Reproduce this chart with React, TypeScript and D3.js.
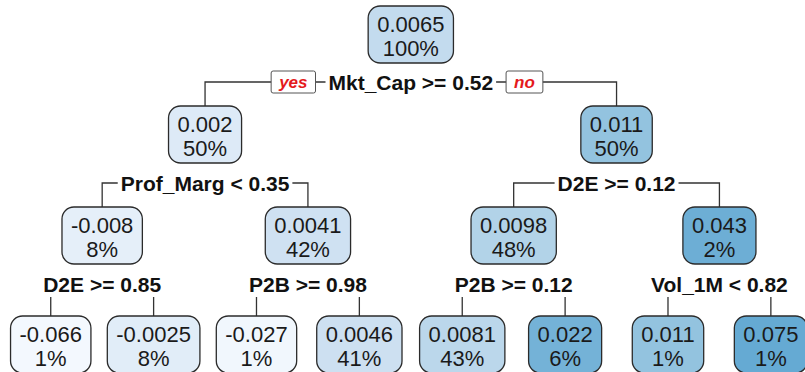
import { useEffect, useRef } from 'react'
import * as d3 from 'd3'

// rpart node numbers: children of n are 2n and 2n+1
const nodeIds = [1, 2, 3, 4, 5, 6, 7, 8, 9, 10, 11, 12, 13, 14, 15]
const nodeValues = [0.0065, 0.002, 0.011, -0.008, 0.0041, 0.0098, 0.043, -0.066, -0.0025, -0.027, 0.0046, 0.0081, 0.022, 0.011, 0.075]
const nodePercents = [100, 50, 50, 8, 42, 48, 2, 1, 8, 1, 41, 43, 6, 1, 1]
const splitLabels = ['Mkt_Cap >= 0.52', 'Prof_Marg < 0.35', 'D2E >= 0.12', 'D2E >= 0.85', 'P2B >= 0.98', 'P2B >= 0.12', 'Vol_1M < 0.82']

const FONT = "'Liberation Sans', Arial, sans-serif"

const DecisionTree = () => {
  const treeRef = useRef(null)

  const drawTree = () => {
    const width = 805, height = 372
    const levelTop = [6, 106, 207, 316]
    const labelY = [82, 183, 284]
    const boxH = 57

    const ctx = document.createElement('canvas').getContext('2d')
    const measure = (s, font) => { ctx.font = font; return ctx.measureText(s).width }

    const fmt = d3.format('.2~g')
    const valueText = v => fmt(v).replace('\u2212', '-')

    // value -> position on the Blues ramp
    const tScale = d3.scaleLinear()
      .domain([-0.066, -0.027, -0.008, 0.002, 0.0041, 0.0065, 0.0098, 0.011, 0.022, 0.043, 0.075])
      .range([0.02, 0.03, 0.09, 0.13, 0.2, 0.25, 0.31, 0.4, 0.48, 0.5, 0.52])
    const fill = v => d3.interpolateBlues(tScale(v))

    const rows = nodeIds.map((id, i) => ({
      id, value: nodeValues[i], pct: nodePercents[i],
      split: i < splitLabels.length ? splitLabels[i] : null
    }))

    const root = d3.stratify()
      .id(d => String(d.id))
      .parentId(d => d.id === 1 ? null : String(Math.floor(d.id / 2)))(rows)

    // leaves land at (i + 0.5) * 823 / 8
    d3.tree().size([823, 3]).separation(() => 1)(root)
    const xOf = n => n.x - 0.7

    const el = d3.select(treeRef.current)
    el.selectAll('*').remove()
    const svg = el.append('svg')
      .attr('width', width)
      .attr('height', height)
      .style('position', 'absolute')
      .style('left', 0)
      .style('top', 0)
      .style('background', '#fff')

    const internals = root.descendants().filter(n => n.children)

    // connectors
    internals.forEach(n => {
      const ly = labelY[n.depth]
      n.children.forEach(c => {
        svg.append('path')
          .attr('d', `M${xOf(c)},${levelTop[c.depth]}V${ly}H${xOf(n)}`)
          .attr('fill', 'none')
          .attr('stroke', '#333')
          .attr('stroke-width', 1.3)
      })
    })

    // split labels
    const labelFont = `bold 21px ${FONT}`
    internals.forEach(n => {
      const ly = labelY[n.depth]
      const cx = xOf(n)
      const w = measure(n.data.split, labelFont)
      svg.append('rect')
        .attr('x', cx - w / 2 - 3)
        .attr('y', ly - 13)
        .attr('width', w + 6)
        .attr('height', 26)
        .attr('fill', '#fff')
      svg.append('text')
        .attr('x', cx)
        .attr('y', ly + 7.5)
        .attr('text-anchor', 'middle')
        .style('font', labelFont)
        .attr('fill', '#111')
        .text(n.data.split)

      if (n.depth === 0) {
        const tagFont = `italic bold 17px ${FONT}`
        const tags = [['yes', -1], ['no', 1]]
        tags.forEach(([t, side]) => {
          const tw = measure(t, tagFont) + 16
          const tx = side < 0 ? cx - w / 2 - 13 - tw : cx + w / 2 + 13
          svg.append('rect')
            .attr('x', tx)
            .attr('y', ly - 11)
            .attr('width', tw)
            .attr('height', 22)
            .attr('rx', 2)
            .attr('fill', '#fff')
            .attr('stroke', '#555')
            .attr('stroke-width', 1)
          svg.append('text')
            .attr('x', tx + tw / 2)
            .attr('y', ly + 6)
            .attr('text-anchor', 'middle')
            .style('font', tagFont)
            .attr('fill', '#e41a1c')
            .text(t)
        })
      }
    })

    // node boxes
    const boxFont = `22px ${FONT}`
    root.descendants().forEach(n => {
      const cx = xOf(n)
      const top = levelTop[n.depth]
      const line1 = valueText(n.data.value)
      const line2 = n.data.pct + '%'
      const w = Math.max(measure(line1, boxFont), measure(line2, boxFont)) + 18
      svg.append('rect')
        .attr('x', cx - w / 2)
        .attr('y', top)
        .attr('width', w)
        .attr('height', boxH)
        .attr('rx', 12)
        .attr('fill', fill(n.data.value))
        .attr('stroke', '#2b2b2b')
        .attr('stroke-width', 1.3)
      const g = svg.append('g')
        .style('font', boxFont)
        .attr('fill', '#1a1a1a')
        .attr('text-anchor', 'middle')
      g.append('text').attr('x', cx).attr('y', top + 26).text(line1)
      g.append('text').attr('x', cx).attr('y', top + 50).text(line2)
    })
  }

  useEffect(() => {
    drawTree()
  }, [])

  return (
    <>
      <div ref={treeRef} className='chart'></div>
    </>
  )
}

export default function App() {
  return <DecisionTree />
}
